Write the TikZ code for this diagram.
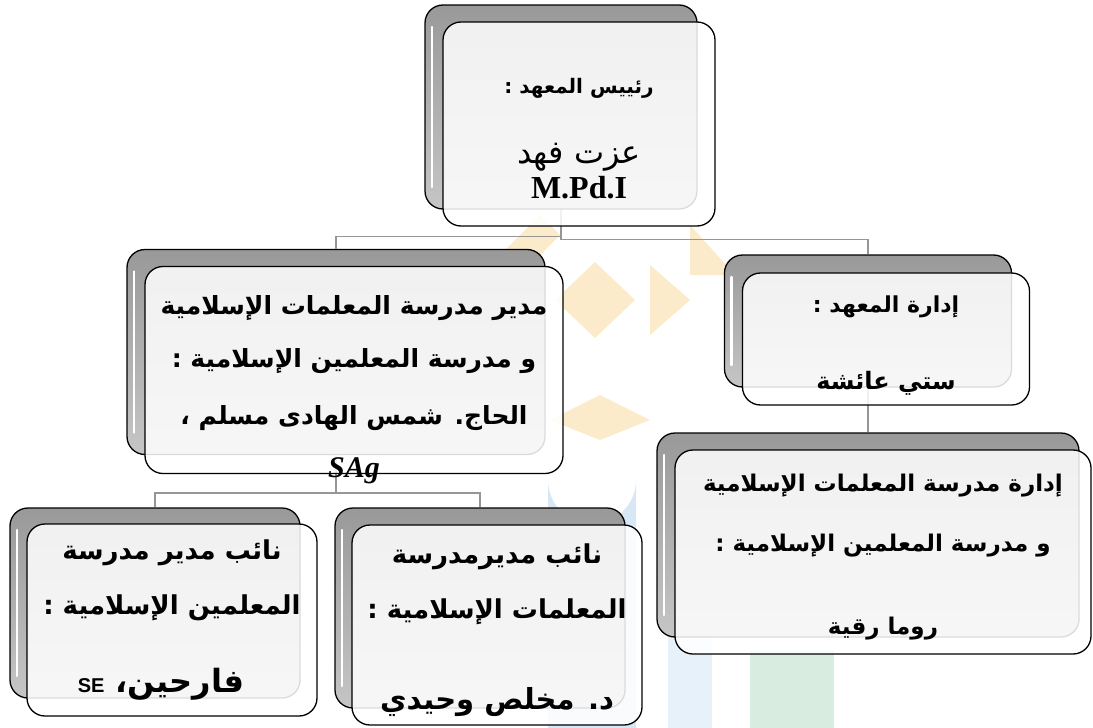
\documentclass[tikz,border=0pt]{standalone}
\usepackage{fontspec}
\setmainfont{Liberation Serif}
\newfontfamily\arabicfont[Script=Arabic]{DejaVu Sans}
\newfontfamily\latinsans{Liberation Sans}
\usetikzlibrary{calc,positioning}
\TeXXeTstate=1
\definecolor{linkgray}{RGB}{150,150,150}
\definecolor{wmorange}{RGB}{251,226,180}
\definecolor{wmblue}{RGB}{215,231,246}
\definecolor{wmgreen}{RGB}{216,237,224}

\begin{document}
\begin{tikzpicture}[x=1pt,y=-1pt,
    backbox/.style={draw=black, line width=1.3pt, rounded corners=18pt,
        top color=gray!80, bottom color=gray!45, inner sep=0pt,
        path picture={\draw[white, line width=2.5pt, line cap=round]
            ([shift={(7pt,-22pt)}]path picture bounding box.north west) --
            ([shift={(7pt,22pt)}]path picture bounding box.south west);}},
    frontbox/.style={draw=black, line width=1.3pt, rounded corners=18pt,
        fill=white, fill opacity=0.86, text opacity=1, inner sep=0pt, align=center,
        font=\arabicfont\bfseries\fontsize{#1}{29}\selectfont},
    frontbox/.default=22,
    link/.style={draw=linkgray, line width=1.6pt}]
    \useasboundingbox (0,0) rectangle (1093,728);

    % faint logo behind the chart
    \begin{scope}[opacity=0.7]
    \fill[wmorange] (595,262) -- (635,300) -- (595,338) -- (555,300) -- cycle;
    \fill[wmorange] (690,225) -- (735,275) -- (690,275) -- cycle;
    \fill[wmorange] (500,255) -- (540,215) -- (560,235) -- (520,275) -- cycle;
    \fill[wmorange] (650,265) -- (690,300) -- (650,335) -- cycle;
    \fill[wmorange] (600,395) -- (650,420) -- (600,440) -- (550,420) -- cycle;
    \end{scope}
    \fill[wmblue] (548,728) -- (548,480) arc (180:0:44) -- (636,728) -- cycle;
    \fill[wmblue!60] (668,728) -- (668,440) -- (712,440) -- (712,728) -- cycle;
    \fill[wmgreen] (750,650) rectangle (834,728);

    % back boxes
    \node[backbox, minimum width=272pt, minimum height=204pt] (rootback) at (561,107) {};
    \node[backbox, minimum width=418pt, minimum height=205pt] (mudirback) at (336,352) {};
    \node[backbox, minimum width=287pt, minimum height=132pt] (idarahback) at (868,321) {};
    \node[backbox, minimum width=422pt, minimum height=204pt] (madrasahback) at (868,535) {};
    \node[backbox, minimum width=290pt, minimum height=190pt] (naibaback) at (155,603) {};
    \node[backbox, minimum width=290pt, minimum height=200pt] (naibbback) at (480,608) {};

    % connectors
    \draw[link] (rootback.south) -- ++(0,27) -| (mudirback.north);
    \draw[link] (rootback.south) -- ++(0,30) -| (idarahback.north);
    \draw[link] (idarahback.south) -- (idarahback.south |- madrasahback.north);
    \draw[link] (mudirback.south) -- ++(0,38) -| (naibaback.north);
    \draw[link] (mudirback.south) -- ++(0,38) -| (naibbback.north);

    % front boxes with the names
    \node[frontbox=20, minimum width=272pt, minimum height=204pt] (root)
        at ([shift={(18,17)}]rootback.center)
        {\rule{0pt}{44pt}\beginR رئييس المعهد :\endR\\[41pt]
         {\mdseries\fontsize{32}{32}\selectfont\beginR عزت فهد\endR}\\[4pt]
         {\rmfamily\bfseries\fontsize{32}{32}\selectfont M.Pd.I}};
    \node[frontbox=25, minimum width=418pt, minimum height=207pt, inner ysep=-24pt] (mudir)
        at ([shift={(18,18)}]mudirback.center)
        {\rule{0pt}{58pt}\beginR مدير مدرسة المعلمات الإسلامية\endR\\[24pt]
         \beginR و مدرسة المعلمين الإسلامية :\endR\\[28pt]
         \beginR الحاج. شمس الهادى مسلم ،\endR\\[24pt]
         {\rmfamily\bfseries\itshape\fontsize{30}{30}\selectfont SAg}};
    \node[frontbox=22, minimum width=287pt, minimum height=132pt] (idarah)
        at ([shift={(18,18)}]idarahback.center)
        {\rule{0pt}{30pt}\beginR إدارة المعهد :\endR\\[48pt] {\fontsize{24}{27}\selectfont\beginR ستي عائشة\endR}};
    \node[frontbox=23, minimum width=416pt, minimum height=204pt] (madrasah)
        at ([shift={(15,17)}]madrasahback.center)
        {\rule{0pt}{28pt}\beginR إدارة مدرسة المعلمات الإسلامية\endR\\[31pt]
         \beginR و مدرسة المعلمين الإسلامية :\endR\\[54pt]
         \beginR روما رقية\endR};
    \node[frontbox=26, minimum width=290pt, minimum height=192pt] (naiba)
        at ([shift={(17,17)}]naibaback.center)
        {\beginR نائب مدير مدرسة\endR\\[26pt]
         \beginR المعلمين الإسلامية :\endR\\[46pt]
         {\fontsize{32}{31}\selectfont\beginR فارحين، \beginL{\latinsans\bfseries\fontsize{20}{28}\selectfont SE}\endL\endR\hspace*{22pt}}};
    \node[frontbox=26, minimum width=290pt, minimum height=200pt] (naibb)
        at ([shift={(17,17)}]naibbback.center)
        {\rule{0pt}{30pt}\beginR نائب مديرمدرسة\endR\\[26pt]
         \beginR المعلمات الإسلامية :\endR\\[62pt]
         {\fontsize{29}{31}\selectfont\beginR د. مخلص وحيدي\endR}};
\end{tikzpicture}
\end{document}
